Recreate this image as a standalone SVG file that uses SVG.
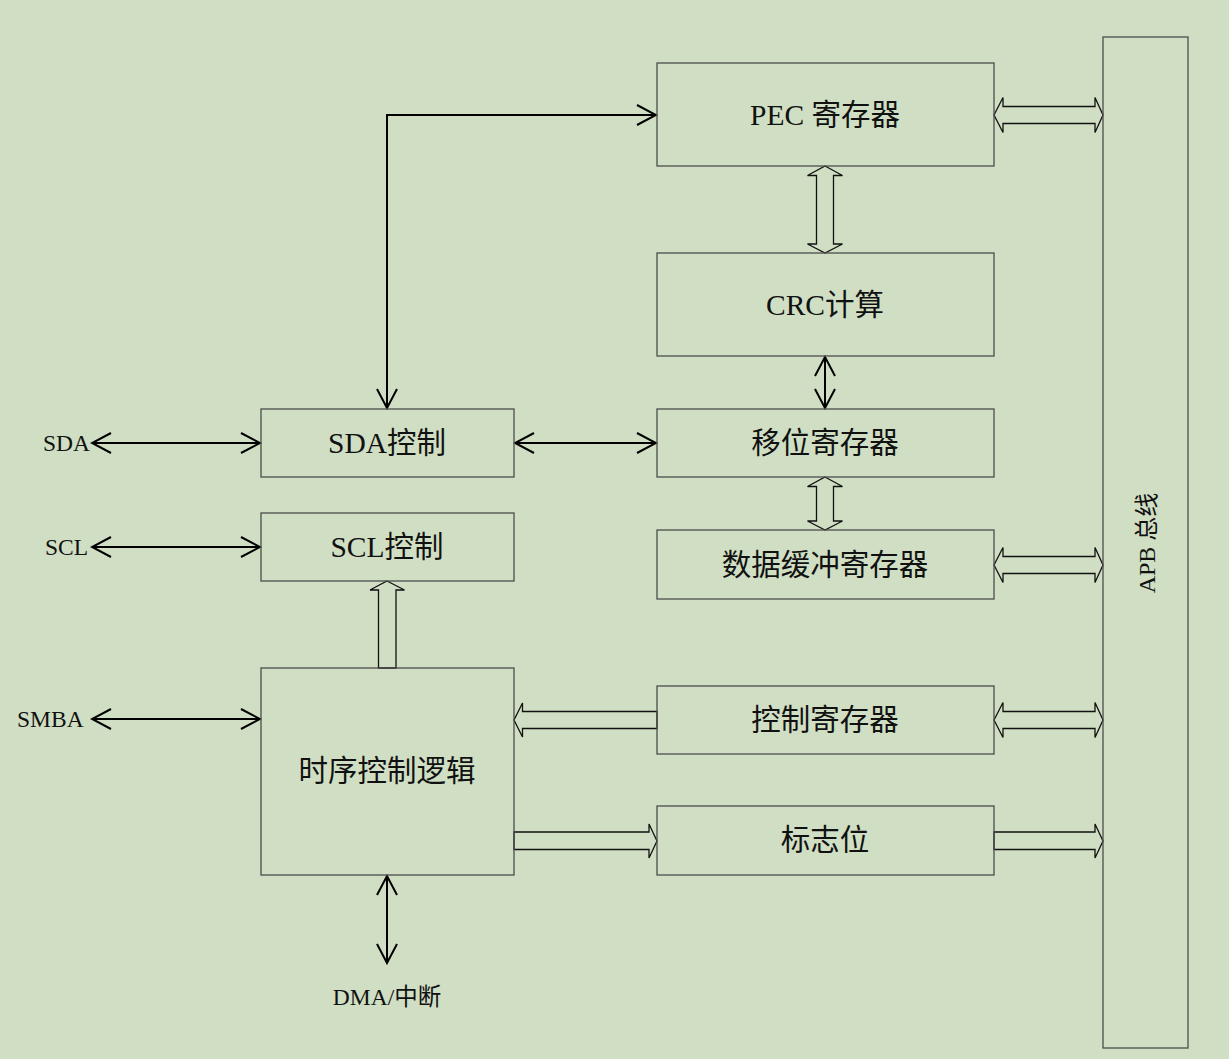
<svg xmlns="http://www.w3.org/2000/svg" width="1229" height="1059" viewBox="0 0 1229 1059">
<style>
.box{fill:none;stroke:#4d4d4d;stroke-width:1.3}
.t{font-family:"Liberation Serif","Noto Sans CJK SC",serif;font-size:29.5px;fill:#111;text-anchor:middle;dominant-baseline:central}
.s{font-family:"Liberation Serif","Noto Sans CJK SC",serif;font-size:23.5px;fill:#111;dominant-baseline:central}
.ln{fill:none;stroke:#000;stroke-width:2}
.ha{fill:#D0DFC4;stroke:#111;stroke-width:1.3;stroke-linejoin:miter}
</style>
<defs>
<marker id="a" viewBox="-22 -12 24 24" markerWidth="24" markerHeight="24" refX="0" refY="0" orient="auto-start-reverse" markerUnits="userSpaceOnUse">
<path d="M-19,-10 L0,0 L-19,10" fill="none" stroke="#000" stroke-width="2"/>
</marker>
</defs>
<rect width="1229" height="1059" fill="#D0DFC4"/>
<g id="connectors">
<path class="ln" d="M92,443 H260" marker-start="url(#a)" marker-end="url(#a)"/>
<path class="ln" d="M92,547 H260" marker-start="url(#a)" marker-end="url(#a)"/>
<path class="ln" d="M92,719 H260" marker-start="url(#a)" marker-end="url(#a)"/>
<path class="ln" d="M515,443 H656" marker-start="url(#a)" marker-end="url(#a)"/>
<path class="ln" d="M387,408 V115 H656" marker-start="url(#a)" marker-end="url(#a)"/>
<path class="ln" d="M825,357 V408" marker-start="url(#a)" marker-end="url(#a)"/>
<path class="ln" d="M387,876 V963" marker-start="url(#a)" marker-end="url(#a)"/>
<path class="ha" d="M994,115 L1003,97.5 L1003,106.5 L1095,106.5 L1095,97.5 L1103,115 L1095,132.5 L1095,123.5 L1003,123.5 L1003,132.5 Z"/>
<path class="ha" d="M994,565 L1003,547.5 L1003,556.5 L1095,556.5 L1095,547.5 L1103,565 L1095,582.5 L1095,573.5 L1003,573.5 L1003,582.5 Z"/>
<path class="ha" d="M994,720 L1003,702.5 L1003,711.5 L1095,711.5 L1095,702.5 L1103,720 L1095,737.5 L1095,728.5 L1003,728.5 L1003,737.5 Z"/>
<path class="ha" d="M994,832 L1095,832 L1095,824 L1103,841 L1095,858 L1095,849.5 L994,849.5 Z"/>
<path class="ha" d="M514,832 L649,832 L649,824 L657,841 L649,858 L649,849.5 L514,849.5 Z"/>
<path class="ha" d="M657,711.5 L522.5,711.5 L522.5,703 L514,720 L522.5,737 L522.5,728.5 L657,728.5 Z"/>
<path class="ha" d="M825,166 L842.5,175.5 L833.5,175.5 L833.5,244 L842.5,244 L825,253 L807.5,244 L816.5,244 L816.5,175.5 L807.5,175.5 Z"/>
<path class="ha" d="M825,477 L842.5,486.5 L833.5,486.5 L833.5,521 L842.5,521 L825,530 L807.5,521 L816.5,521 L816.5,486.5 L807.5,486.5 Z"/>
<path class="ha" d="M387,581 L404.5,590 L396,590 L396,668 L378.5,668 L378.5,590 L370,590 Z"/>
</g>
<g id="pec"><rect class="box" x="657" y="63" width="337" height="103"/><text class="t" x="825" y="115">PEC 寄存器</text></g>
<g id="crc"><rect class="box" x="657" y="253" width="337" height="103"/><text class="t" x="825" y="305">CRC计算</text></g>
<g id="shift"><rect class="box" x="657" y="409" width="337" height="68"/><text class="t" x="825" y="443">移位寄存器</text></g>
<g id="databuf"><rect class="box" x="657" y="530" width="337" height="69"/><text class="t" x="825" y="565">数据缓冲寄存器</text></g>
<g id="ctrlreg"><rect class="box" x="657" y="686" width="337" height="68"/><text class="t" x="825" y="720">控制寄存器</text></g>
<g id="flag"><rect class="box" x="657" y="806" width="337" height="69"/><text class="t" x="825" y="840">标志位</text></g>
<g id="sdactrl"><rect class="box" x="261" y="409" width="253" height="68"/><text class="t" x="387" y="443">SDA控制</text></g>
<g id="sclctrl"><rect class="box" x="261" y="513" width="253" height="68"/><text class="t" x="387" y="547">SCL控制</text></g>
<g id="timing"><rect class="box" x="261" y="668" width="253" height="207"/><text class="t" x="387" y="771">时序控制逻辑</text></g>
<g id="apb"><rect class="box" x="1103" y="37" width="85" height="1011"/><text class="s" x="1147" y="543" transform="rotate(-90 1147 543)" text-anchor="middle" style="font-size:24px">APB 总线</text></g>
<g id="sda"><text class="s" x="43" y="443">SDA</text></g>
<g id="scl"><text class="s" x="45" y="547">SCL</text></g>
<g id="smba"><text class="s" x="17" y="719">SMBA</text></g>
<g id="dma"><text class="s" x="387" y="997" text-anchor="middle">DMA/中断</text></g>
</svg>
